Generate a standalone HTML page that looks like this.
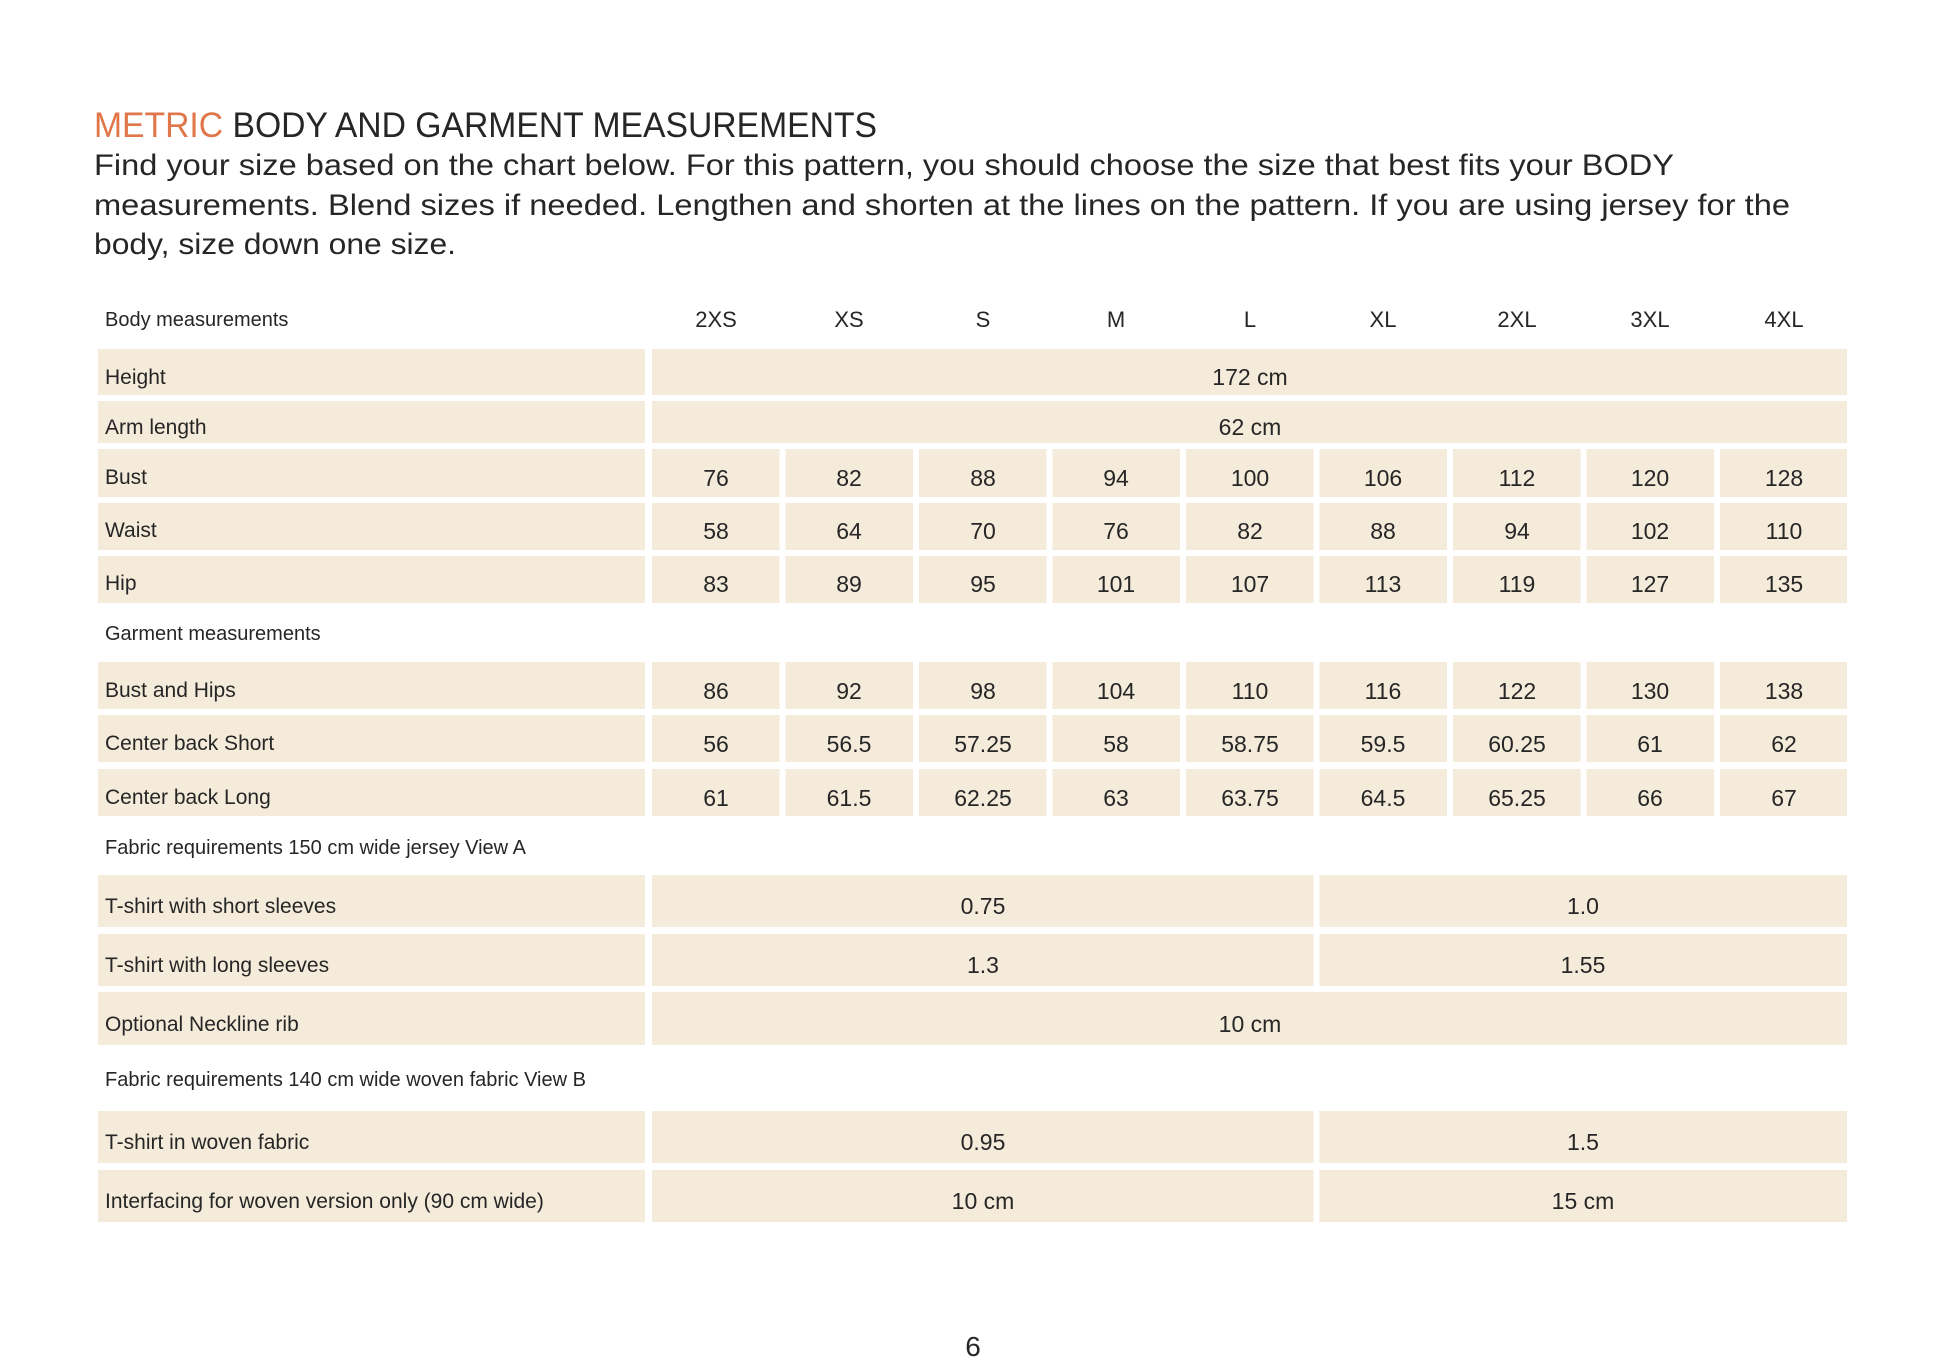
<!DOCTYPE html>
<html><head><meta charset="utf-8"><style>
html,body{margin:0;padding:0;background:#fff;}
svg{display:block;}
text{font-family:"Liberation Sans",sans-serif;fill:#262626;}
.l{font-size:21px;transform:translateY(4px);}
.v{font-size:23px;text-anchor:middle;transform:translateY(4px);}
.h{font-size:20px;}
.c{font-size:22px;text-anchor:middle;}
rect{fill:#f5ebda;}
</style></head><body>
<svg width="1946" height="1372" viewBox="0 0 1946 1372" xmlns="http://www.w3.org/2000/svg">
<text x="94" y="137" style="font-size:35px" textLength="783" lengthAdjust="spacingAndGlyphs"><tspan style="fill:#e0774a">METRIC</tspan> BODY AND GARMENT MEASUREMENTS</text>
<text x="94" y="175" style="font-size:30px" textLength="1580" lengthAdjust="spacingAndGlyphs">Find your size based on the chart below. For this pattern, you should choose the size that best fits your BODY</text>
<text x="94" y="215" style="font-size:30px" textLength="1696" lengthAdjust="spacingAndGlyphs">measurements. Blend sizes if needed. Lengthen and shorten at the lines on the pattern. If you are using jersey for the</text>
<text x="94" y="254" style="font-size:30px" textLength="362" lengthAdjust="spacingAndGlyphs">body, size down one size.</text>

<text class="h" x="105" y="326">Body measurements</text>
<text class="c" x="716" y="327">2XS</text><text class="c" x="849" y="327">XS</text><text class="c" x="983" y="327">S</text><text class="c" x="1116" y="327">M</text><text class="c" x="1250" y="327">L</text><text class="c" x="1383" y="327">XL</text><text class="c" x="1517" y="327">2XL</text><text class="c" x="1650" y="327">3XL</text><text class="c" x="1784" y="327">4XL</text>

<rect x="98" y="349" width="547" height="46"/><rect x="652" y="349" width="1195" height="46"/>
<text class="l" x="105" y="380">Height</text><text class="v" x="1250" y="381">172 cm</text>
<rect x="98" y="401" width="547" height="42"/><rect x="652" y="401" width="1195" height="42"/>
<text class="l" x="105" y="430">Arm length</text><text class="v" x="1250" y="431">62 cm</text>

<rect x="98" y="449" width="547" height="48"/>
<g><rect x="652" y="449" width="127.5" height="48"/><rect x="785.5" y="449" width="127.5" height="48"/><rect x="919" y="449" width="127.5" height="48"/><rect x="1052.5" y="449" width="127.5" height="48"/><rect x="1186" y="449" width="127.5" height="48"/><rect x="1319.5" y="449" width="127.5" height="48"/><rect x="1453" y="449" width="127.5" height="48"/><rect x="1586.5" y="449" width="127.5" height="48"/><rect x="1720" y="449" width="127" height="48"/></g>
<text class="l" x="105" y="480">Bust</text>
<text class="v" x="716" y="482">76</text><text class="v" x="849" y="482">82</text><text class="v" x="983" y="482">88</text><text class="v" x="1116" y="482">94</text><text class="v" x="1250" y="482">100</text><text class="v" x="1383" y="482">106</text><text class="v" x="1517" y="482">112</text><text class="v" x="1650" y="482">120</text><text class="v" x="1784" y="482">128</text>

<rect x="98" y="503" width="547" height="47"/>
<g><rect x="652" y="503" width="127.5" height="47"/><rect x="785.5" y="503" width="127.5" height="47"/><rect x="919" y="503" width="127.5" height="47"/><rect x="1052.5" y="503" width="127.5" height="47"/><rect x="1186" y="503" width="127.5" height="47"/><rect x="1319.5" y="503" width="127.5" height="47"/><rect x="1453" y="503" width="127.5" height="47"/><rect x="1586.5" y="503" width="127.5" height="47"/><rect x="1720" y="503" width="127" height="47"/></g>
<text class="l" x="105" y="533">Waist</text>
<text class="v" x="716" y="535">58</text><text class="v" x="849" y="535">64</text><text class="v" x="983" y="535">70</text><text class="v" x="1116" y="535">76</text><text class="v" x="1250" y="535">82</text><text class="v" x="1383" y="535">88</text><text class="v" x="1517" y="535">94</text><text class="v" x="1650" y="535">102</text><text class="v" x="1784" y="535">110</text>

<rect x="98" y="556" width="547" height="47"/>
<g><rect x="652" y="556" width="127.5" height="47"/><rect x="785.5" y="556" width="127.5" height="47"/><rect x="919" y="556" width="127.5" height="47"/><rect x="1052.5" y="556" width="127.5" height="47"/><rect x="1186" y="556" width="127.5" height="47"/><rect x="1319.5" y="556" width="127.5" height="47"/><rect x="1453" y="556" width="127.5" height="47"/><rect x="1586.5" y="556" width="127.5" height="47"/><rect x="1720" y="556" width="127" height="47"/></g>
<text class="l" x="105" y="586">Hip</text>
<text class="v" x="716" y="588">83</text><text class="v" x="849" y="588">89</text><text class="v" x="983" y="588">95</text><text class="v" x="1116" y="588">101</text><text class="v" x="1250" y="588">107</text><text class="v" x="1383" y="588">113</text><text class="v" x="1517" y="588">119</text><text class="v" x="1650" y="588">127</text><text class="v" x="1784" y="588">135</text>

<text class="h" x="105" y="640">Garment measurements</text>

<rect x="98" y="662" width="547" height="47"/>
<g><rect x="652" y="662" width="127.5" height="47"/><rect x="785.5" y="662" width="127.5" height="47"/><rect x="919" y="662" width="127.5" height="47"/><rect x="1052.5" y="662" width="127.5" height="47"/><rect x="1186" y="662" width="127.5" height="47"/><rect x="1319.5" y="662" width="127.5" height="47"/><rect x="1453" y="662" width="127.5" height="47"/><rect x="1586.5" y="662" width="127.5" height="47"/><rect x="1720" y="662" width="127" height="47"/></g>
<text class="l" x="105" y="693">Bust and Hips</text>
<text class="v" x="716" y="695">86</text><text class="v" x="849" y="695">92</text><text class="v" x="983" y="695">98</text><text class="v" x="1116" y="695">104</text><text class="v" x="1250" y="695">110</text><text class="v" x="1383" y="695">116</text><text class="v" x="1517" y="695">122</text><text class="v" x="1650" y="695">130</text><text class="v" x="1784" y="695">138</text>

<rect x="98" y="715" width="547" height="47"/>
<g><rect x="652" y="715" width="127.5" height="47"/><rect x="785.5" y="715" width="127.5" height="47"/><rect x="919" y="715" width="127.5" height="47"/><rect x="1052.5" y="715" width="127.5" height="47"/><rect x="1186" y="715" width="127.5" height="47"/><rect x="1319.5" y="715" width="127.5" height="47"/><rect x="1453" y="715" width="127.5" height="47"/><rect x="1586.5" y="715" width="127.5" height="47"/><rect x="1720" y="715" width="127" height="47"/></g>
<text class="l" x="105" y="746">Center back Short</text>
<text class="v" x="716" y="748">56</text><text class="v" x="849" y="748">56.5</text><text class="v" x="983" y="748">57.25</text><text class="v" x="1116" y="748">58</text><text class="v" x="1250" y="748">58.75</text><text class="v" x="1383" y="748">59.5</text><text class="v" x="1517" y="748">60.25</text><text class="v" x="1650" y="748">61</text><text class="v" x="1784" y="748">62</text>

<rect x="98" y="769" width="547" height="47"/>
<g><rect x="652" y="769" width="127.5" height="47"/><rect x="785.5" y="769" width="127.5" height="47"/><rect x="919" y="769" width="127.5" height="47"/><rect x="1052.5" y="769" width="127.5" height="47"/><rect x="1186" y="769" width="127.5" height="47"/><rect x="1319.5" y="769" width="127.5" height="47"/><rect x="1453" y="769" width="127.5" height="47"/><rect x="1586.5" y="769" width="127.5" height="47"/><rect x="1720" y="769" width="127" height="47"/></g>
<text class="l" x="105" y="800">Center back Long</text>
<text class="v" x="716" y="802">61</text><text class="v" x="849" y="802">61.5</text><text class="v" x="983" y="802">62.25</text><text class="v" x="1116" y="802">63</text><text class="v" x="1250" y="802">63.75</text><text class="v" x="1383" y="802">64.5</text><text class="v" x="1517" y="802">65.25</text><text class="v" x="1650" y="802">66</text><text class="v" x="1784" y="802">67</text>

<text class="h" x="105" y="854">Fabric requirements 150 cm wide jersey View A</text>

<rect x="98" y="875" width="547" height="52"/><rect x="652" y="875" width="661.5" height="52"/><rect x="1319.5" y="875" width="527.5" height="52"/>
<text class="l" x="105" y="909">T-shirt with short sleeves</text><text class="v" x="983" y="910">0.75</text><text class="v" x="1583" y="910">1.0</text>

<rect x="98" y="934" width="547" height="52"/><rect x="652" y="934" width="661.5" height="52"/><rect x="1319.5" y="934" width="527.5" height="52"/>
<text class="l" x="105" y="968">T-shirt with long sleeves</text><text class="v" x="983" y="969">1.3</text><text class="v" x="1583" y="969">1.55</text>

<rect x="98" y="992" width="547" height="53"/><rect x="652" y="992" width="1195" height="53"/>
<text class="l" x="105" y="1027">Optional Neckline rib</text><text class="v" x="1250" y="1028">10 cm</text>

<text class="h" x="105" y="1086">Fabric requirements 140 cm wide woven fabric View B</text>

<rect x="98" y="1111" width="547" height="52"/><rect x="652" y="1111" width="661.5" height="52"/><rect x="1319.5" y="1111" width="527.5" height="52"/>
<text class="l" x="105" y="1145">T-shirt in woven fabric</text><text class="v" x="983" y="1146">0.95</text><text class="v" x="1583" y="1146">1.5</text>

<rect x="98" y="1170" width="547" height="52"/><rect x="652" y="1170" width="661.5" height="52"/><rect x="1319.5" y="1170" width="527.5" height="52"/>
<text class="l" x="105" y="1204">Interfacing for woven version only (90 cm wide)</text><text class="v" x="983" y="1205">10 cm</text><text class="v" x="1583" y="1205">15 cm</text>

<text x="973" y="1356" style="font-size:28px;text-anchor:middle">6</text>
</svg>
</body></html>
